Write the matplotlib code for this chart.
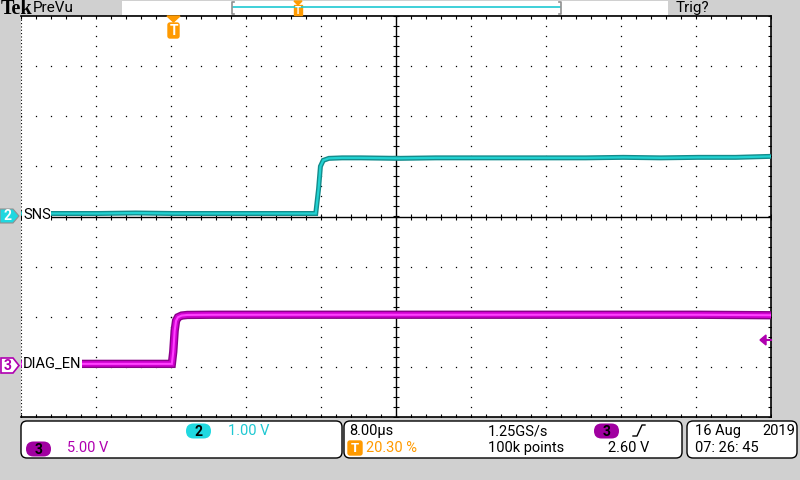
"""
示波器截图复刻：SNS (CH2) 与 DIAG_EN (CH3) 上升沿
"""
import numpy as np
import matplotlib
matplotlib.use("Agg")
import matplotlib.pyplot as plt
from matplotlib.patches import Polygon, FancyBboxPatch, Rectangle

plt.rcParams["font.family"] = ["Roboto", "DejaVu Sans"]

# ---------- 示波器设置 ----------
TIME_PER_DIV = 8.0       # µs/div
CH2_VOLT_PER_DIV = 1.0
CH3_VOLT_PER_DIV = 5.0
TRIG_POS = 0.203         # 触发点在屏幕上的比例
CH2_GND_DIV = 0.0        # 通道地电平（格）
CH3_GND_DIV = -3.0
TRIG_LEVEL = 2.60        # V (CH3)

# ---------- 波形数据（相对触发点，µs / V） ----------
sns_t = [-16.3, -12, -8, -4, 0, 4, 8, 12, 15.2, 15.5, 15.7, 16.0, 16.6, 18, 20,
         24, 28, 32, 36, 40, 44, 48, 52, 56, 60, 63.8]
sns_v = [0.06, 0.06, 0.06, 0.07, 0.06, 0.06, 0.06, 0.06, 0.06, 0.55, 1.00, 1.12,
         1.16, 1.17, 1.17, 1.16, 1.17, 1.17, 1.17, 1.17, 1.17, 1.18, 1.17, 1.18,
         1.18, 1.20]

diag_t = [-16.3, -8, -0.15, 0.0, 0.15, 0.3, 0.5, 0.9, 1.5, 4, 8, 16, 24, 32, 40,
          48, 56, 63.8]
diag_v = [0.30, 0.30, 0.30, 1.5, 3.6, 4.6, 4.95, 5.12, 5.18, 5.2, 5.2, 5.2, 5.2,
          5.2, 5.2, 5.2, 5.2, 5.15]

# ---------- 画布 ----------
GRAY = "#d0d0d0"
CYAN = "#1ec8d2"
MAGENTA = "#b000b0"
ORANGE = "#ff9a00"

fig = plt.figure(figsize=(8, 4.8), dpi=100, facecolor=GRAY)

# 网格区域：x 21..771 px, y 16..417 px
ax = fig.add_axes([21 / 800, 63 / 480, 750 / 800, 401 / 480])
ax.set_xlim(-5, 5)
ax.set_ylim(-4, 4)
ax.set_facecolor("white")
ax.set_xticks([])
ax.set_yticks([])
for side in ["top", "bottom", "right"]:
    ax.spines[side].set_color("black")
    ax.spines[side].set_linewidth(1.2)
ax.spines["left"].set_visible(False)
ax.plot([-5, -5], [-4, 4], color="black", lw=0.8, ls=(0, (1, 2)))

# 虚点网格
ys = np.arange(-4, 4.001, 0.2)
xs = np.arange(-5, 5.001, 0.2)
for gx in range(-4, 5):
    if gx == 0:
        continue
    ax.plot(np.full_like(ys, gx), ys, ls="none", marker="s", ms=0.9,
            mew=0, color="black")
for gy in range(-3, 4):
    if gy == 0:
        continue
    ax.plot(xs, np.full_like(xs, gy), ls="none", marker="s", ms=0.9,
            mew=0, color="black")

# 中心十字线和刻度
ax.axhline(0, color="black", lw=1.0)
ax.axvline(0, color="black", lw=1.0)
ax.plot(xs, np.zeros_like(xs), ls="none", marker="|", ms=4, mew=0.8, color="black")
ax.plot(np.zeros_like(ys), ys, ls="none", marker="_", ms=4, mew=0.8, color="black")
ax.plot(xs, np.full_like(xs, 4), ls="none", marker="|", ms=4, mew=0.8, color="black")
ax.plot(xs, np.full_like(xs, -4), ls="none", marker="|", ms=4, mew=0.8, color="black")
ax.plot(np.full_like(ys, 5), ys, ls="none", marker="_", ms=4, mew=0.8, color="black")

# 波形：时间 -> 格
t_left = -TRIG_POS * 10 * TIME_PER_DIV
def t2div(t):
    return (np.asarray(t) - t_left) / TIME_PER_DIV - 5

sx = t2div(sns_t)
sy = np.asarray(sns_v) / CH2_VOLT_PER_DIV + CH2_GND_DIV
dx = t2div(diag_t)
dy = np.asarray(diag_v) / CH3_VOLT_PER_DIV + CH3_GND_DIV

ax.plot(dx, dy, color="#8a008a", lw=6.0, solid_joinstyle="miter", zorder=3)
ax.plot(dx, dy, color="#d000d0", lw=4.0, solid_joinstyle="miter", zorder=3)
ax.plot(dx, dy, color="#ff40ff", lw=1.5, solid_joinstyle="miter", zorder=3)

ax.plot(sx, sy, color="#138c8c", lw=3.6, solid_joinstyle="miter", zorder=4)
ax.plot(sx, sy, color="#22d2d2", lw=1.6, solid_joinstyle="miter", zorder=4)

# ---------- 界面元素（像素坐标） ----------
ui = fig.add_axes([0, 0, 1, 1], facecolor="none")
ui.set_xlim(0, 800)
ui.set_ylim(480, 0)
ui.axis("off")

# 顶栏
ui.text(1, 9, "Tek", family="Liberation Serif", weight="bold", fontsize=14.5,
        va="center", ha="left")
ui.text(33, 8, "PreVu", fontsize=11, va="center", ha="left")
ui.add_patch(Rectangle((122, 1), 546, 14, facecolor="white", edgecolor="none"))
ui.plot([233, 560], [7, 7], color=CYAN, lw=1.2)
ui.plot([234, 232, 232, 234], [2, 2, 14, 14], color="#909090", lw=1.2)
ui.plot([559, 561, 561, 559], [2, 2, 14, 14], color="#909090", lw=1.2)
ui.add_patch(Polygon([(294, 1), (302, 1), (298, 5)], color=ORANGE))
ui.add_patch(Rectangle((294, 5), 8, 10, color=ORANGE))
ui.text(298, 10.5, "T", color="white", fontsize=7, weight="bold",
        ha="center", va="center")
ui.text(676, 8, "Trig?", fontsize=11, va="center", ha="left")

# 触发位置标记
ui.add_patch(Polygon([(167, 16), (180, 16), (173.5, 22)], color=ORANGE, zorder=5))
ui.add_patch(FancyBboxPatch((168, 23), 11, 15, boxstyle="round,pad=0,rounding_size=2",
                            color=ORANGE, zorder=5))
ui.text(173.5, 31, "T", color="white", fontsize=10, weight="bold",
        ha="center", va="center", zorder=6)

# 通道标记
ui.add_patch(Polygon([(0, 209), (13, 209), (19, 216), (13, 223), (0, 223)],
                     facecolor="#20d8e0", edgecolor="#909090", lw=0.8, zorder=5))
ui.text(7, 216.5, "2", color="white", fontsize=10, weight="bold",
        ha="center", va="center", zorder=6)
ui.text(23, 215, "SNS", fontsize=10.5, va="center", ha="left", zorder=6,
        bbox=dict(facecolor="white", edgecolor="none", pad=0.5))

ui.add_patch(Polygon([(1, 358), (13, 358), (19, 365.5), (13, 373), (1, 373)],
                     facecolor="white", edgecolor=MAGENTA, lw=1.2, zorder=5))
ui.text(7.5, 366, "3", color=MAGENTA, fontsize=10, weight="bold",
        ha="center", va="center", zorder=6)
ui.text(23, 364, "DIAG_EN", fontsize=10.5, va="center", ha="left", zorder=6,
        bbox=dict(facecolor="white", edgecolor="none", pad=0.5))

# 触发电平箭头
lvl_px = 216 - (TRIG_LEVEL / CH3_VOLT_PER_DIV + CH3_GND_DIV) * 50
ui.add_patch(Polygon([(760, lvl_px), (766, lvl_px - 5), (766, lvl_px + 5)],
                     color=MAGENTA, zorder=5))
ui.plot([765, 771], [lvl_px, lvl_px], color=MAGENTA, lw=1.5, zorder=5)

# 底部信息框
for x0, x1 in [(21, 342), (344, 682), (687, 797)]:
    ui.add_patch(FancyBboxPatch((x0, 421), x1 - x0, 37,
                                boxstyle="round,pad=0,rounding_size=6",
                                facecolor="white", edgecolor="black", lw=1.0))

def oval(cx, cy, color, label):
    ui.add_patch(FancyBboxPatch((cx - 12.5, cy - 7.5), 25, 15,
                                boxstyle="round,pad=0,rounding_size=7.5",
                                facecolor=color, edgecolor="none"))
    ui.text(cx, cy + 0.5, label, fontsize=10, weight="bold", ha="center", va="center")

FS = 10.5
oval(198.5, 431, "#20d8e0", "2")
ui.text(228, 431, "1.00 V", color=CYAN, fontsize=FS, va="center", ha="left")
oval(38.5, 449, "#a000a0", "3")
ui.text(67, 448, "5.00 V", color=MAGENTA, fontsize=FS, va="center", ha="left")

ui.text(349, 431, "8.00µs", fontsize=FS, va="center", ha="left")
ui.add_patch(FancyBboxPatch((348, 441), 14, 14, boxstyle="round,pad=0,rounding_size=2",
                            color=ORANGE))
ui.text(355, 448.5, "T", color="white", fontsize=9.5, weight="bold",
        ha="center", va="center")
ui.text(366, 448, "20.30 %", color=ORANGE, fontsize=FS, va="center", ha="left")
ui.text(488, 431, "1.25GS/s", fontsize=FS, va="center", ha="left")
ui.text(488, 448, "100k points", fontsize=FS, va="center", ha="left")
oval(606.5, 431, "#a000a0", "3")
ui.plot([633, 637, 642, 645], [436, 436, 425, 425], color="black", lw=1.0)
ui.text(608, 448, "2.60 V", fontsize=FS, va="center", ha="left")

ui.text(695, 431, "16 Aug", fontsize=FS, va="center", ha="left")
ui.text(762, 431, "2019", fontsize=FS, va="center", ha="left")
ui.text(695, 448, "07: 26: 45", fontsize=FS, va="center", ha="left")

fig.savefig("out.png", dpi=100, facecolor=GRAY)
